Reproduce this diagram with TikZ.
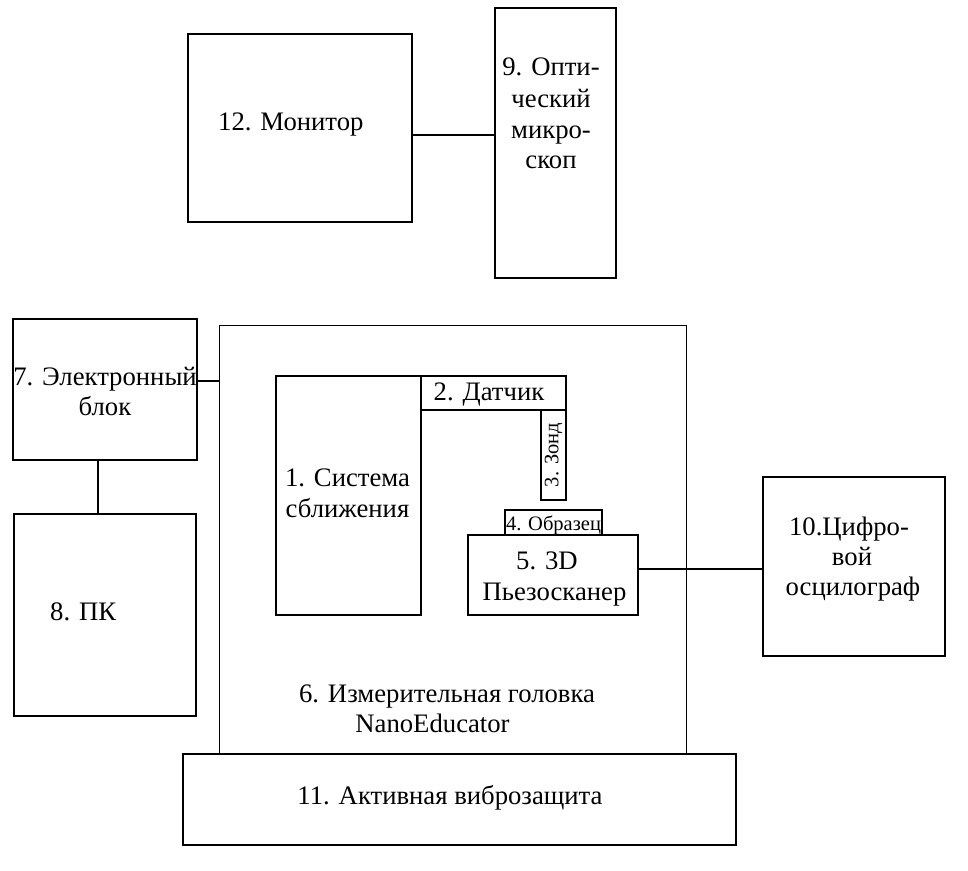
\documentclass[tikz,border=0pt]{standalone}
\usepackage{fontspec}
\setmainfont{Liberation Serif}
\begin{document}
\begin{tikzpicture}[x=1pt,y=-1pt,
  box/.style={draw,line width=2pt,inner sep=0pt,outer sep=0pt,fill=white},
  thinbox/.style={draw,line width=1pt,inner sep=0pt,outer sep=0pt},
  lbl/.style={anchor=base,inner sep=0pt,font=\fontsize{26.7}{31}\selectfont},
  lblw/.style={anchor=base west,inner sep=0pt,font=\fontsize{26.7}{31}\selectfont},
  small/.style={inner sep=0pt,font=\fontsize{20.5}{24}\selectfont},
  wire/.style={line width=2pt}]
\useasboundingbox (0,0) rectangle (968,870);
% boxes
\node[thinbox,minimum width=467.5pt,minimum height=429pt] (head) at (452.75,539.5) {};
\node[box,minimum width=552.5pt,minimum height=91pt] (vib) at (459.25,799.5) {};
\node[box,minimum width=224pt,minimum height=188pt] (mon) at (300,128) {};
\node[box,minimum width=121pt,minimum height=270pt] (mic) at (555,142.5) {};
\node[box,minimum width=184pt,minimum height=141pt] (e7) at (105,389.5) {};
\node[box,minimum width=182pt,minimum height=202pt] (pc) at (105,615) {};
\node[box,minimum width=144.7pt,minimum height=239.3pt] (s1) at (348.3,495.3) {};
\node[box,minimum width=145.3pt,minimum height=34.3pt] (d2) at (493.3,392.8) {};
\node[box,minimum width=25pt,minimum height=90pt] (z3) at (553.5,455) {};
\node[box,minimum width=97.3pt,minimum height=25pt] (o4) at (553.7,522.5) {};
\node[box,minimum width=170pt,minimum height=80pt] (p5) at (553.3,575) {};
\node[box,minimum width=181.7pt,minimum height=179pt] (osc) at (854.2,566.2) {};
% connectors
\draw[wire] ([yshift=-7pt]mon.east) -- ([yshift=-7pt]mon.east -| mic.west);
\draw[wire] ([yshift=8.5pt]e7.east) -- ([yshift=8.5pt]e7.east -| head.west);
\draw[wire] ([xshift=-7pt]e7.south) -- ([xshift=-7pt]e7.south |- pc.north);
\draw[wire] ([yshift=6pt]p5.east) -- ([yshift=6pt]p5.east -| osc.west);
% labels
\node[lblw] (tmon) at (218,130) {12. Монитор};
\node[lbl] (tmic1) at (551,75) {9. Опти-};
\node[lbl] (tmic2) at (551,107) {ческий};
\node[lbl] (tmic3) at (551,138) {микро-};
\node[lbl] (tmic4) at (551,168) {скоп};
\node[lbl] (te71) at (105,385) {7. Электронный};
\node[lbl] (te72) at (105,415) {блок};
\node[lblw] (tpc) at (50,620) {8. ПК};
\node[lbl] (ts11) at (347.5,486) {1. Система};
\node[lbl] (ts12) at (347.5,517) {сближения};
\node[lbl] (td2) at (489,400) {2. Датчик};
\node[small,rotate=90] (tz3) at (553.5,455) {3. Зонд};
\node[small,anchor=base] (to4) at (553.5,530) {4. Образец};
\node[lbl] (tp51) at (547,569) {5. 3D};
\node[lbl] (tp52) at (554.5,600) {Пьезосканер};
\node[lbl] (tosc1) at (849,535) {10.Цифро-};
\node[lbl] (tosc2) at (852,565) {вой};
\node[lbl] (tosc3) at (853,595) {осцилограф};
\node[lbl] (thead1) at (447,702) {6. Измерительная головка};
\node[lbl] (thead2) at (432.5,732) {NanoEducator};
\node[lbl] (tvib) at (450,804) {11. Активная виброзащита};
\end{tikzpicture}
\end{document}
